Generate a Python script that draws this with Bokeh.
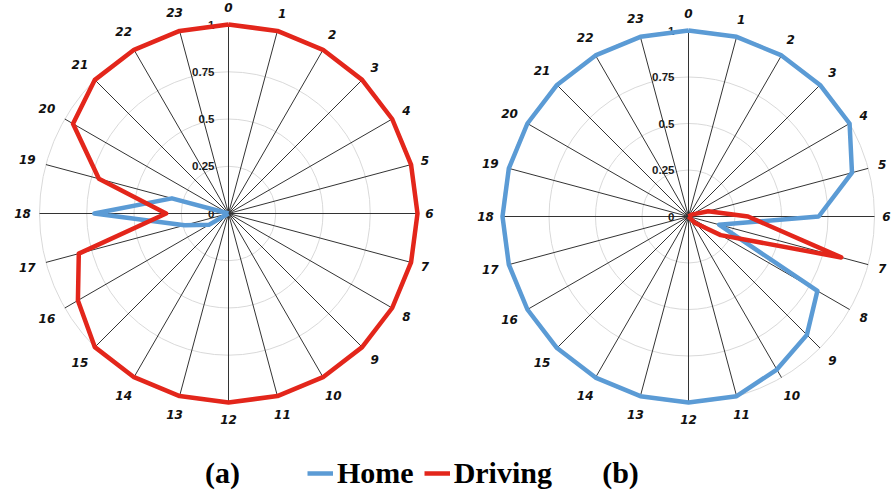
import numpy as np
from bokeh.plotting import figure
from bokeh.models import Range1d, Legend, LegendItem, ColumnDataSource
from bokeh.core.properties import value
from bokeh.embed import file_html
from bokeh.resources import INLINE

# --- data -------------------------------------------------------------
hours = list(range(24))
hour_labels = [str(h) for h in hours]
tick_values = [0.0, 0.25, 0.5, 0.75, 1.0]
tick_labels = ["0", "0.25", "0.5", "0.75", "1"]

# panel (a)
home_a = [0, 0, 0, 0, 0, 0, 0, 0, 0, 0, 0, 0,
          0, 0, 0, 0, 0.12, 0.24, 0.71, 0.31, 0, 0, 0, 0]
driving_a = [1, 1, 1, 1, 1, 1, 1, 1, 1, 1, 1, 1,
             1, 1, 1, 1, 0.92, 0.82, 0.33, 0.71, 0.95, 1, 1, 1]

# panel (b)
home_b = [1, 1, 1, 1, 1, 0.91, 0.70, 0.17, 0.80, 0.90, 0.95, 1,
          1, 1, 1, 1, 1, 1, 1, 1, 1, 1, 1, 1]
driving_b = [0, 0, 0, 0, 0.02, 0.11, 0.32, 0.85, 0.20, 0.05, 0, 0,
             0, 0, 0, 0, 0, 0, 0, 0, 0, 0, 0, 0]

# --- style ------------------------------------------------------------
HOME_COLOR = "#5b9bd5"
DRIVING_COLOR = "#e3261b"
RING_COLOR = "#d9d9d9"
SPOKE_COLOR = "#333333"

W, H = 892, 494
p = figure(width=W, height=H, x_range=Range1d(0, W), y_range=Range1d(H, 0),
           output_backend="svg", toolbar_location=None, min_border=0,
           x_axis_location=None, y_axis_location=None)
p.grid.visible = False
p.outline_line_color = None
p.background_fill_color = "white"


def radar(cx, cy, R, home, driving):
    theta = np.deg2rad(np.array(hours) * 15.0)
    sx, cy_dir = np.sin(theta), np.cos(theta)

    # concentric rings
    p.circle(x=[cx] * 4, y=[cy] * 4, radius=[R * v for v in tick_values[1:]],
             fill_color=None, line_color=RING_COLOR, line_width=1)
    # spokes
    p.segment(x0=[cx] * 24, y0=[cy] * 24, x1=cx + R * sx, y1=cy - R * cy_dir,
              line_color=SPOKE_COLOR, line_width=1)

    # hour labels around the rim
    half_w = np.array([len(s) * 5.0 for s in hour_labels])
    off = R + 7 + np.abs(sx) * half_w + np.abs(cy_dir) * 10
    p.text(x=cx + off * sx, y=cy - off * cy_dir, text=hour_labels,
           text_align="center", text_baseline="middle",
           text_font=value("DejaVu Sans"), text_font_style="bold italic",
           text_font_size="12px", text_color="#111111")

    # radial tick labels along the 0-hour spoke
    p.text(x=[cx - 14] * 5, y=[cy - R * v for v in tick_values], text=tick_labels,
           text_align="right", text_baseline="middle",
           text_font=value("Liberation Sans"), text_font_style="bold",
           text_font_size="11.5px", text_color="#1a1a1a")

    renderers = []
    for vals, color in ((home, HOME_COLOR), (driving, DRIVING_COLOR)):
        v = np.array(vals + vals[:1], dtype=float)
        t = np.concatenate([theta, theta[:1]])
        src = ColumnDataSource(dict(x=cx + R * v * np.sin(t), y=cy - R * v * np.cos(t)))
        r = p.line("x", "y", source=src, line_color=color, line_width=4.5,
                   line_join="round")
        renderers.append(r)
    return renderers


home_ra, drive_ra = radar(228, 213, 189, home_a, driving_a)
home_rb, drive_rb = radar(688, 216, 186, home_b, driving_b)

# panel captions
p.text(x=[222, 620], y=[472, 472], text=["(a)", "(b)"], text_align="center",
       text_baseline="middle", text_font=value("Liberation Serif"),
       text_font_style="bold", text_font_size="30px", text_color="black")

legend = Legend(items=[LegendItem(label="Home", renderers=[home_ra]),
                       LegendItem(label="Driving", renderers=[drive_ra])],
                orientation="horizontal", location=(307, 4),
                label_text_font="Liberation Serif", label_text_font_style="bold",
                label_text_font_size="30px", label_text_color="black",
                glyph_width=26, glyph_height=30,
                label_standoff=4, spacing=10, padding=0, margin=0,
                background_fill_alpha=0, border_line_alpha=0)
p.add_layout(legend)

open("out.html", "w").write(file_html(p, INLINE))
